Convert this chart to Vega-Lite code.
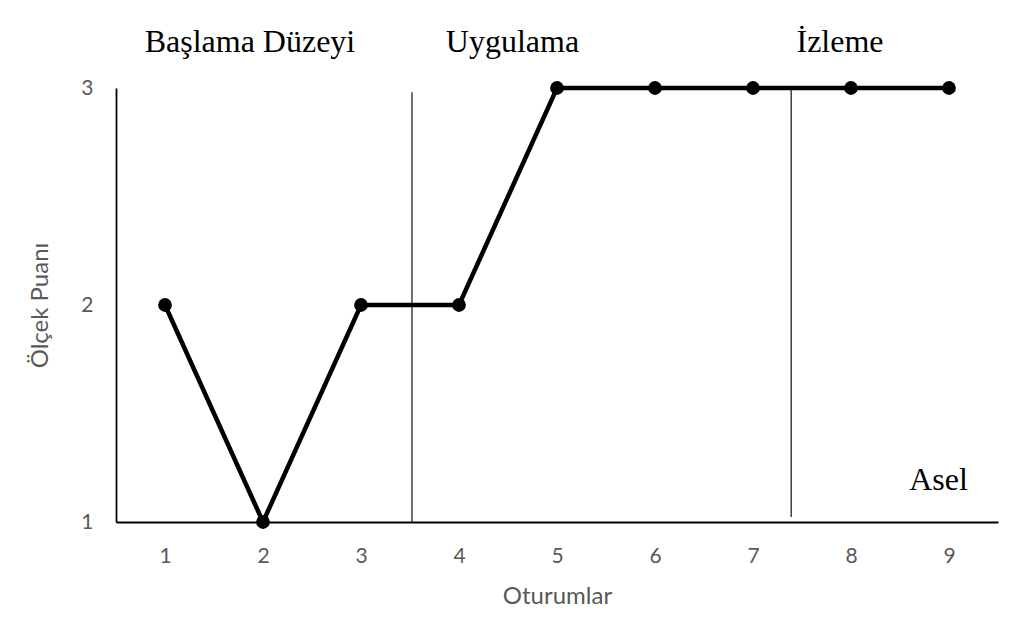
{
  "$schema": "https://vega.github.io/schema/vega-lite/v6.json",
  "width": 882,
  "height": 434,
  "autosize": {"type": "none"},
  "padding": {"left": 116, "top": 88, "right": 21, "bottom": 121},
  "background": "white",
  "config": {
    "view": {"stroke": null},
    "axis": {
      "grid": false, "ticks": false, "domainColor": "black", "labelOverlap": false, "labelBound": false, "labelFlush": false,
      "labelFont": "Lato", "labelFontSize": 21, "labelColor": "#595959",
      "titleFont": "Lato", "titleFontSize": 24, "titleFontWeight": "normal", "titleColor": "#595959"
    },
    "axisX": {"domainWidth": 2, "labelPadding": 23, "titlePadding": 18},
    "axisY": {"domainWidth": 1.75, "labelPadding": 23, "titlePadding": 28}
  },
  "datasets": {
    "scores": [
      {"oturum": 1, "puan": 2},
      {"oturum": 2, "puan": 1},
      {"oturum": 3, "puan": 2},
      {"oturum": 4, "puan": 2},
      {"oturum": 5, "puan": 3},
      {"oturum": 6, "puan": 3},
      {"oturum": 7, "puan": 3},
      {"oturum": 8, "puan": 3},
      {"oturum": 9, "puan": 3}
    ],
    "phases": [
      {"x": 3.52, "y": 1.0, "y2": 2.98},
      {"x": 7.39, "y": 1.023, "y2": 3.005}
    ],
    "labels": [
      {"label": "Başlama Düzeyi", "x": 1.867, "y": 3.166},
      {"label": "Uygulama", "x": 4.546, "y": 3.166},
      {"label": "İzleme", "x": 7.888, "y": 3.166},
      {"label": "Asel", "x": 8.893, "y": 1.147}
    ]
  },
  "encoding": {
    "x": {
      "type": "quantitative",
      "scale": {"domain": [0.5, 9.5], "nice": false, "zero": false},
      "axis": {"title": "Oturumlar", "values": [1,2,3,4,5,6,7,8,9], "format": ".0f"}
    },
    "y": {
      "type": "quantitative",
      "scale": {"domain": [1, 3], "nice": false, "zero": false},
      "axis": {"title": "Ölçek Puanı", "values": [1,2,3], "format": ".0f"}
    }
  },
  "layer": [
    {
      "data": {"name": "phases"},
      "mark": {"type": "rule", "color": "#404040", "strokeWidth": 1.5, "clip": false},
      "encoding": {
        "x": {"field": "x", "type": "quantitative", "title": "Oturumlar"},
        "y": {"field": "y", "type": "quantitative", "title": "Ölçek Puanı"},
        "y2": {"field": "y2"}
      }
    },
    {
      "data": {"name": "scores"},
      "mark": {"type": "line", "color": "black", "strokeWidth": 4.5, "clip": false},
      "encoding": {
        "x": {"field": "oturum", "type": "quantitative", "title": "Oturumlar"},
        "y": {"field": "puan", "type": "quantitative", "title": "Ölçek Puanı"}
      }
    },
    {
      "data": {"name": "scores"},
      "mark": {"type": "circle", "color": "black", "size": 190, "opacity": 1, "clip": false},
      "encoding": {
        "x": {"field": "oturum", "type": "quantitative", "title": "Oturumlar"},
        "y": {"field": "puan", "type": "quantitative", "title": "Ölçek Puanı"}
      }
    },
    {
      "data": {"name": "labels"},
      "mark": {"type": "text", "font": "Liberation Serif", "fontSize": 32, "color": "black", "align": "center", "baseline": "alphabetic", "clip": false},
      "encoding": {
        "x": {"field": "x", "type": "quantitative", "title": "Oturumlar"},
        "y": {"field": "y", "type": "quantitative", "title": "Ölçek Puanı"},
        "text": {"field": "label"}
      }
    }
  ]
}
